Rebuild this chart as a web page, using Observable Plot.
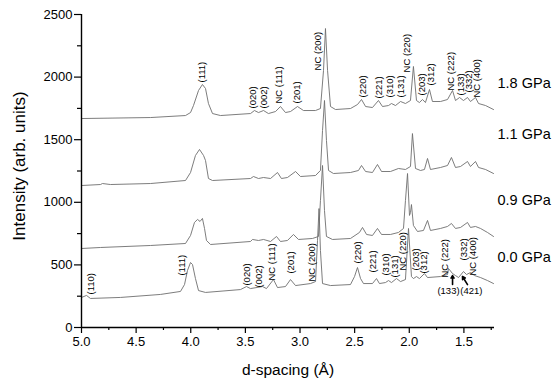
<!DOCTYPE html>
<html>
<head>
<meta charset="utf-8">
<script src="https://cdn.jsdelivr.net/npm/d3@7"></script>
<script src="https://cdn.jsdelivr.net/npm/@observablehq/plot@0.6"></script>
<style>
  html, body { margin: 0; padding: 0; background: #fff; }
</style>
</head>
<body>
<div id="chart"></div>
<script>
// ---- data (d-spacing in Å, intensity in arb. units) ----
const xDomain = [5.0, 1.22];
const yTicks = [0, 500, 1000, 1500, 2000, 2500];
const yMinor = [250, 750, 1250, 1750, 2250];
const xTicks = [5.0, 4.5, 4.0, 3.5, 3.0, 2.5, 2.0, 1.5];
const xMinor = [4.75, 4.25, 3.75, 3.25, 2.75, 2.25, 1.75, 1.25];

const p18 = [[5.000,1669],[4.368,1677],[4.048,1693],[4.002,1717],[3.975,1773],[3.929,1893],[3.893,1941],[3.865,1909],[3.838,1789],[3.801,1709],[3.728,1693],[3.453,1709],[3.417,1733],[3.380,1717],[3.334,1733],[3.289,1709],[3.224,1725],[3.179,1765],[3.133,1717],[3.087,1725],[3.023,1765],[2.968,1733],[2.858,1733],[2.813,1749],[2.785,2053],[2.767,2388],[2.748,2053],[2.721,1765],[2.675,1741],[2.538,1749],[2.474,1781],[2.437,1821],[2.400,1765],[2.337,1757],[2.282,1813],[2.245,1765],[2.190,1773],[2.163,1789],[2.126,1773],[2.080,1805],[2.035,1789],[1.989,1813],[1.962,2085],[1.934,1813],[1.907,1797],[1.879,1821],[1.852,1797],[1.815,1901],[1.788,1805],[1.714,1805],[1.650,1821],[1.604,1893],[1.577,1813],[1.540,1837],[1.504,1813],[1.467,1837],[1.440,1805],[1.394,1837],[1.366,1789],[1.302,1773],[1.229,1741]];

const p11 = [[5.000,1134],[4.826,1142],[4.808,1150],[4.735,1142],[4.368,1150],[4.048,1174],[4.002,1238],[3.957,1374],[3.920,1422],[3.883,1374],[3.865,1334],[3.838,1190],[3.801,1174],[3.453,1190],[3.426,1206],[3.380,1190],[3.334,1198],[3.270,1190],[3.206,1238],[3.170,1190],[3.115,1198],[3.041,1246],[2.996,1206],[2.858,1214],[2.813,1254],[2.794,1573],[2.776,1813],[2.758,1494],[2.739,1254],[2.694,1230],[2.538,1238],[2.465,1254],[2.437,1294],[2.400,1246],[2.337,1238],[2.291,1302],[2.254,1246],[2.172,1246],[2.099,1270],[2.035,1262],[1.989,1286],[1.971,1549],[1.943,1270],[1.897,1254],[1.861,1262],[1.833,1350],[1.806,1262],[1.714,1278],[1.650,1294],[1.614,1358],[1.577,1278],[1.531,1286],[1.467,1326],[1.440,1286],[1.394,1326],[1.366,1278],[1.302,1262],[1.229,1230]];

const p09 = [[5.000,631],[4.826,639],[4.368,655],[4.048,671],[4.002,735],[3.966,839],[3.938,863],[3.915,847],[3.893,871],[3.874,791],[3.856,695],[3.819,663],[3.453,687],[3.435,703],[3.380,695],[3.334,703],[3.270,687],[3.215,727],[3.179,687],[3.115,695],[3.060,743],[3.014,703],[2.886,711],[2.831,727],[2.813,1014],[2.794,1294],[2.776,934],[2.758,727],[2.703,703],[2.538,711],[2.456,759],[2.428,799],[2.391,743],[2.337,735],[2.291,791],[2.254,743],[2.172,743],[2.099,759],[2.053,791],[2.035,1014],[2.016,1230],[1.998,895],[1.989,918],[1.980,982],[1.962,815],[1.925,767],[1.870,775],[1.833,855],[1.806,775],[1.714,791],[1.650,807],[1.614,831],[1.577,791],[1.531,799],[1.467,839],[1.440,799],[1.394,807],[1.348,791],[1.284,759],[1.229,727]];

const p00 = [[5.000,240],[4.954,256],[4.918,232],[4.643,240],[4.277,264],[4.094,288],[4.057,343],[4.030,455],[4.002,519],[3.984,503],[3.957,391],[3.929,295],[3.865,280],[3.545,303],[3.490,327],[3.453,311],[3.343,327],[3.307,311],[3.243,383],[3.206,319],[3.133,327],[3.087,383],[3.041,335],[2.904,351],[2.858,367],[2.840,695],[2.826,950],[2.813,615],[2.794,351],[2.721,335],[2.538,343],[2.501,407],[2.474,479],[2.446,391],[2.419,351],[2.337,351],[2.300,391],[2.273,351],[2.218,359],[2.190,375],[2.163,359],[2.117,391],[2.080,367],[2.035,383],[2.007,791],[1.980,407],[1.962,391],[1.934,407],[1.907,391],[1.861,431],[1.833,399],[1.714,407],[1.650,423],[1.641,471],[1.604,431],[1.577,415],[1.549,399],[1.504,447],[1.476,423],[1.440,439],[1.403,415],[1.348,399],[1.284,375],[1.229,351]];

const pressures = ["1.8 GPa", "1.1 GPa", "0.9 GPa", "0.0 GPa"];
const pressureLabelY = [1949, 1541, 1014, 559];

// peak labels: [text, d, intensity at bottom of label]
const labels18 = [["(111)",3.902,1957],["(020)",3.435,1749],["(002)",3.334,1749],["NC (111)",3.197,1789],["(201)",3.032,1789],["NC (200)",2.840,2053],["(220)",2.428,1837],["(221)",2.282,1829],["(310)",2.181,1837],["(131)",2.080,1837],["NC (220)",2.025,2037],["(203)",1.888,1853],["(312)",1.806,1933],["NC (222)",1.614,1893],["(133)",1.531,1853],["(332)",1.458,1877],["NC (400)",1.385,1837]];
const labels00 = [["(110)",4.918,264],["(111)",4.085,415],["(020)",3.490,335],["(002)",3.380,319],["NC (111)",3.261,375],["(201)",3.087,431],["NC (200)",2.895,367],["(220)",2.474,511],["(221)",2.328,439],["(310)",2.218,415],["(131)",2.135,399],["NC (220)",2.062,455],["(203)",1.943,455],["(312)",1.870,431],["NC (222)",1.678,399],["(332)",1.504,535],["NC (400)",1.421,415]];
const arrowLabels = [["(133)",1.641,295],["(421)",1.431,295]];
const arrows = [[1.604,343,1.604,415],[1.467,343,1.513,407]];

// ---- build tables ----
const series = [p18, p11, p09, p00];
const rows = series.flatMap((s, i) => s.map(([d, I]) => ({d, I, p: pressures[i]})));
const toObj = arr => arr.map(([t, d, I]) => ({t, d, I}));
const vlabels = toObj(labels18).concat(toObj(labels00));
const hlabels = toObj(arrowLabels);
const arrowRows = arrows.map(([x1, y1, x2, y2]) => ({x1, y1, x2, y2}));
const pLabels = pressures.map((t, i) => ({t, I: pressureLabelY[i]}));

const chart = Plot.plot({
  width: 556,
  height: 380,
  marginLeft: 81,
  marginRight: 62,
  marginTop: 14,
  marginBottom: 53,
  style: {fontFamily: "'Liberation Sans', Arial, sans-serif", fontSize: "13px", background: "#fff", color: "#000"},
  x: {domain: xDomain},
  y: {domain: [0, 2500]},
  marks: [
    Plot.line(rows, {x: "d", y: "I", z: "p", stroke: "#6e6e6e", strokeWidth: 0.9}),
    Plot.ruleX([xDomain[0]], {y1: 0, y2: 2500, stroke: "#000", strokeWidth: 1.4}),
    Plot.ruleY([0], {x1: xDomain[0], x2: xDomain[1], stroke: "#000", strokeWidth: 1.4}),
    Plot.axisY({ticks: yTicks, tickSize: 7, tickPadding: 2, tickFormat: d3.format("d"), label: null, strokeWidth: 1.2}),
    Plot.axisY({ticks: yMinor, tickSize: 4, text: null, label: null, strokeWidth: 1.2}),
    Plot.axisX({ticks: xTicks, tickSize: 6, tickPadding: 3, tickFormat: d3.format(".1f"), label: null, strokeWidth: 1.2}),
    Plot.axisX({ticks: xMinor, tickSize: 3, text: null, label: null, strokeWidth: 1.2}),
    Plot.text(vlabels, {x: "d", y: "I", text: "t", rotate: -90, textAnchor: "start", lineAnchor: "middle", fontSize: 9.5, fill: "#000"}),
    Plot.text(hlabels, {x: "d", y: "I", text: "t", textAnchor: "middle", lineAnchor: "middle", fontSize: 9.5, fill: "#000"}),
    Plot.arrow(arrowRows, {x1: "x1", y1: "y1", x2: "x2", y2: "y2", stroke: "#000", strokeWidth: 1.6, headLength: 5}),
    Plot.text(pLabels, {x: xDomain[1], y: "I", text: "t", dx: 3, textAnchor: "start", lineAnchor: "middle", fontSize: 14.5, fill: "#000"}),
    Plot.text(["Intensity (arb. units)"], {frameAnchor: "left", dx: -62, dy: -5, rotate: -90, textAnchor: "middle", lineAnchor: "middle", fontSize: 17, fill: "#000"}),
    Plot.text(["d-spacing (Å)"], {frameAnchor: "bottom", dy: 43, textAnchor: "middle", lineAnchor: "middle", fontSize: 15.5, fill: "#000"})
  ]
});
document.getElementById("chart").appendChild(chart);
</script>
</body>
</html>
